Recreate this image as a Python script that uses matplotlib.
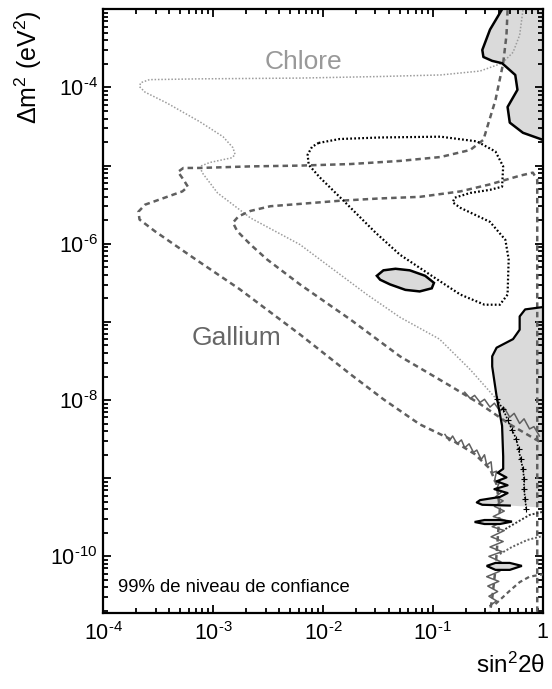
import numpy as np
import matplotlib
matplotlib.use("Agg")
import matplotlib.pyplot as plt
from matplotlib.ticker import FixedLocator, FixedFormatter, LogLocator, NullFormatter

plt.rcParams['font.family'] = ['Liberation Sans', 'DejaVu Sans']
plt.rcParams['mathtext.fontset'] = 'custom'
plt.rcParams['mathtext.rm'] = 'Liberation Sans'
plt.rcParams['mathtext.it'] = 'Liberation Sans:italic'
plt.rcParams['axes.unicode_minus'] = False

# contours given as log10(sin^2 2theta), log10(dm^2 / eV^2)

# chlorine experiment, 99% CL
chlore_ls = [-0.18, -0.21, -0.27, -0.37, -0.57, -0.93, -1.48, -2.21, -3.12, -3.58, -3.66,
             -3.67, -3.62, -3.42, -3.12, -2.91, -2.82, -2.80, -2.83, -3.03, -3.12, -3.10,
             -2.96, -2.66, -2.21, -1.60, -1.30, -0.94, -0.66, -0.42]
chlore_lm = [-3.01, -3.33, -3.55, -3.69, -3.79, -3.84, -3.86, -3.88, -3.89, -3.90, -3.94,
             -3.99, -4.06, -4.20, -4.44, -4.63, -4.77, -4.86, -4.90, -4.96, -5.01, -5.09,
             -5.35, -5.67, -6.01, -6.65, -6.94, -7.22, -7.61, -7.99]

# gallium experiments, outer and inner contours
gallium_out_ls = [-0.32, -0.33, -0.36, -0.43, -0.54, -0.66, -0.93, -1.30, -1.75, -2.21, -2.66,
                  -3.12, -3.27, -3.32, -3.27, -3.23, -3.28, -3.44, -3.62, -3.68, -3.67, -3.53,
                  -3.18, -2.76, -2.21, -1.75, -1.45, -1.12, -0.84, -0.62, -0.48, -0.42, -0.39,
                  -0.41, -0.43, -0.46, -0.48]
gallium_out_lm = [-3.01, -3.33, -3.69, -4.16, -4.67, -4.80, -4.89, -4.94, -4.98, -5.00, -5.01,
                  -5.03, -5.03, -5.08, -5.18, -5.27, -5.33, -5.41, -5.50, -5.59, -5.69, -5.84,
                  -6.18, -6.58, -7.16, -7.67, -7.99, -8.31, -8.50, -8.69, -8.88, -9.08, -9.39,
                  -9.78, -10.16, -10.54, -10.71]
gallium_in_ls = [-0.05, -0.05, -0.09, -0.21, -0.48, -0.75, -1.12, -1.48, -1.85, -2.21, -2.48,
                 -2.66, -2.77, -2.82, -2.78, -2.66, -2.51, -2.21, -1.75, -1.30, -0.84, -0.57,
                 -0.30, -0.02]
gallium_in_lm = [-10.71, -5.18, -5.09, -5.13, -5.24, -5.33, -5.40, -5.42, -5.45, -5.49, -5.52,
                 -5.58, -5.65, -5.73, -5.84, -6.01, -6.20, -6.52, -6.97, -7.44, -7.82, -8.05,
                 -8.31, -8.54]

# scatter of the gallium contours at low dm^2
gallium_noise1_ls = [-0.89, -0.85, -0.82, -0.78, -0.74, -0.71, -0.67, -0.63, -0.60, -0.56, -0.53,
                     -0.51, -0.47, -0.46, -0.42, -0.44, -0.39, -0.42, -0.37, -0.43, -0.36, -0.44,
                     -0.35, -0.45, -0.34, -0.46, -0.35, -0.47, -0.36, -0.48, -0.37, -0.49, -0.38,
                     -0.50, -0.39, -0.51, -0.40, -0.50, -0.41, -0.49, -0.42, -0.48]
gallium_noise1_lm = [-8.44, -8.52, -8.46, -8.56, -8.51, -8.61, -8.56, -8.67, -8.64, -8.76, -8.70,
                     -8.83, -8.79, -8.93, -8.91, -9.04, -9.04, -9.14, -9.17, -9.24, -9.29, -9.36,
                     -9.42, -9.49, -9.54, -9.62, -9.67, -9.75, -9.81, -9.88, -9.94, -10.00, -10.07,
                     -10.13, -10.19, -10.26, -10.32, -10.38, -10.45, -10.51, -10.57, -10.63]
gallium_noise2_ls = [-0.71, -0.66, -0.62, -0.57, -0.53, -0.48, -0.44, -0.39, -0.35, -0.30, -0.26,
                     -0.21, -0.17, -0.12, -0.08, -0.03]
gallium_noise2_lm = [-7.90, -7.98, -7.94, -8.03, -7.99, -8.09, -8.04, -8.14, -8.10, -8.22, -8.17,
                     -8.30, -8.24, -8.37, -8.34, -8.46]

# combined black dotted contour
dotted_ls = [-2.04, -1.85, -1.48, -0.93, -0.60, -0.43, -0.36, -0.37, -0.48, -0.66, -0.80, -0.82,
             -0.75, -0.48, -0.34, -0.31, -0.32, -0.39, -0.53, -0.75, -1.00, -1.30, -1.52, -1.82,
             -2.03, -2.13, -2.14, -2.10, -2.04]
dotted_lm = [-4.71, -4.66, -4.64, -4.63, -4.69, -4.82, -5.01, -5.27, -5.31, -5.35, -5.41, -5.47,
             -5.54, -5.72, -5.95, -6.20, -6.65, -6.78, -6.78, -6.65, -6.42, -6.14, -5.86, -5.44,
             -5.15, -4.99, -4.86, -4.76, -4.71]
dotted_low_ls = [-0.42, -0.36, -0.32, -0.28, -0.24, -0.22, -0.20, -0.18, -0.17, -0.17, -0.16, -0.15]
dotted_low_lm = [-7.99, -8.12, -8.25, -8.38, -8.50, -8.63, -8.76, -8.88, -9.01, -9.14, -9.27, -9.39]
curl_a_ls = [-0.34, -0.23, -0.12, 0.0]
curl_a_lm = [-9.65, -9.56, -9.47, -9.43]
curl_b_ls = [-0.39, -0.28, -0.14, 0.0]
curl_b_lm = [-9.97, -9.88, -9.79, -9.74]
curl_c_ls = [-0.43, -0.30, -0.21, -0.12, 0.0]
curl_c_lm = [-10.61, -10.44, -10.33, -10.26, -10.23]

# allowed regions (shaded)
region_top_ls = [-0.37, -0.48, -0.55, -0.54, -0.46, -0.37, -0.25, -0.23, -0.32, -0.30, -0.18, 0.0, 0.0]
region_top_lm = [-3.00, -3.26, -3.52, -3.61, -3.66, -3.69, -3.84, -4.03, -4.25, -4.45, -4.58, -4.67, -3.00]
island_ls = [-1.51, -1.45, -1.34, -1.21, -1.07, -0.99, -1.01, -1.12, -1.25, -1.39, -1.48, -1.51]
island_lm = [-6.41, -6.34, -6.32, -6.34, -6.41, -6.50, -6.57, -6.61, -6.59, -6.52, -6.46, -6.41]
region_low_ls = [0.0, -0.16, -0.21, -0.21, -0.27, -0.42, -0.46, -0.46, -0.42, -0.37, -0.36, -0.36,
                 -0.41, -0.33, -0.42, -0.32, -0.44, -0.32, -0.39, -0.57, -0.60, -0.55, -0.30,
                 -0.07, 0.0]
region_low_lm = [-6.81, -6.84, -6.93, -7.10, -7.22, -7.33, -7.44, -7.57, -7.95, -8.33, -8.72, -8.88,
                 -8.93, -8.99, -9.04, -9.09, -9.14, -9.19, -9.24, -9.28, -9.31, -9.34, -9.35,
                 -9.37, -9.37]
loop_a_ls = [-0.62, -0.53, -0.39, -0.28, -0.39, -0.53, -0.62]
loop_a_lm = [-9.56, -9.535, -9.535, -9.555, -9.586, -9.586, -9.56]
loop_b_ls = [-0.51, -0.43, -0.30, -0.19, -0.30, -0.43, -0.51]
loop_b_lm = [-10.122, -10.084, -10.084, -10.122, -10.173, -10.173, -10.122]

x_ticks = [1e-4, 1e-3, 1e-2, 1e-1, 1]
x_tick_labels = [r'$10^{\text{-}4}$', r'$10^{\text{-}3}$', r'$10^{\text{-}2}$',
                 r'$10^{\text{-}1}$', '1']
y_ticks = [1e-10, 1e-9, 1e-8, 1e-7, 1e-6, 1e-5, 1e-4, 1e-3]
y_tick_labels = [r'$10^{\text{-}10}$', '', r'$10^{\text{-}8}$', '', r'$10^{\text{-}6}$', '',
                 r'$10^{\text{-}4}$', '']


def lin(a):
    return 10.0 ** np.asarray(a)


CHL = '#9c9c9c'
GAL = '#5f5f5f'
FILL = '#dadada'

fig = plt.figure(figsize=(5.52, 6.89), dpi=100)
ax = fig.add_axes([0.1871, 0.1107, 0.7961, 0.8758])
ax.set_xscale('log')
ax.set_yscale('log')

# shaded regions first
ax.fill(lin(region_top_ls), lin(region_top_lm), color=FILL, lw=0, zorder=1)
ax.plot(lin(region_top_ls[:-1]), lin(region_top_lm[:-1]), color='k', lw=1.8, zorder=4)
ax.fill(lin(region_low_ls), lin(region_low_lm), color=FILL, lw=0, zorder=1)
ax.plot(lin(region_low_ls[:-2]), lin(region_low_lm[:-2]), color='k', lw=1.6, zorder=4)
ax.fill(lin(island_ls), lin(island_lm), facecolor=FILL, edgecolor='k', lw=1.8, zorder=4)
ax.fill(lin(loop_a_ls), lin(loop_a_lm), facecolor=FILL, edgecolor='k', lw=1.6, zorder=4)
ax.fill(lin(loop_b_ls), lin(loop_b_lm), facecolor=FILL, edgecolor='k', lw=1.6, zorder=4)

# experiment contours
ax.plot(lin(chlore_ls), lin(chlore_lm), color=CHL, lw=1.1, ls=(0, (1, 1.2)), zorder=2)
ax.plot(lin(gallium_out_ls), lin(gallium_out_lm), color=GAL, lw=1.8, ls=(0, (2.2, 1.6)), zorder=3)
ax.plot(lin(gallium_in_ls), lin(gallium_in_lm), color=GAL, lw=1.8, ls=(0, (2.2, 1.6)), zorder=3)
ax.plot(lin(gallium_noise1_ls), lin(gallium_noise1_lm), color=GAL, lw=1.1, zorder=3)
ax.plot(lin(gallium_noise2_ls), lin(gallium_noise2_lm), color=GAL, lw=1.1, zorder=3)
ax.plot(lin(dotted_ls), lin(dotted_lm), color='k', lw=1.6, ls=(0, (0.8, 1.0)), zorder=3)
ax.plot(lin(dotted_low_ls), lin(dotted_low_lm), color='k', lw=1.2, ls=(0, (1, 1)),
        marker='+', ms=4, mew=0.8, zorder=3)
ax.plot(lin(curl_a_ls), lin(curl_a_lm), color='#333333', lw=1.4, ls=(0, (1, 1)), zorder=3)
ax.plot(lin(curl_b_ls), lin(curl_b_lm), color=GAL, lw=1.4, ls=(0, (1, 1)), zorder=3)
ax.plot(lin(curl_c_ls), lin(curl_c_lm), color=GAL, lw=1.6, ls=(0, (2, 1.5)), zorder=3)

ax.set_xlim(1e-4, 1)
ax.set_ylim(1.9e-11, 1e-3)

ax.xaxis.set_major_locator(FixedLocator(x_ticks))
ax.xaxis.set_major_formatter(FixedFormatter(x_tick_labels))
ax.yaxis.set_major_locator(FixedLocator(y_ticks))
ax.yaxis.set_major_formatter(FixedFormatter(y_tick_labels))
ax.xaxis.set_minor_locator(LogLocator(base=10, subs=np.arange(2, 10), numticks=20))
ax.yaxis.set_minor_locator(LogLocator(base=10, subs=np.arange(2, 10), numticks=20))
ax.xaxis.set_minor_formatter(NullFormatter())
ax.yaxis.set_minor_formatter(NullFormatter())
ax.tick_params(which='both', direction='in', top=True, right=True, width=1.3, labelsize=15.5)
ax.tick_params(which='major', length=6)
ax.tick_params(which='minor', length=3.5)
ax.tick_params(axis='x', pad=7)
ax.tick_params(axis='y', pad=4)
for sp in ax.spines.values():
    sp.set_linewidth(1.6)

ax.text(0.4545, 0.9127, 'Chlore', transform=ax.transAxes, ha='center', va='center',
        fontsize=19, color='#999999')
ax.text(0.304, 0.455, 'Gallium', transform=ax.transAxes, ha='center', va='center',
        fontsize=19, color='#666666')
ax.text(0.0335, 0.041, '99% de niveau de confiance', transform=ax.transAxes, ha='left',
        va='center', fontsize=13.3, color='k')

fig.text(0.0507, 0.9855, 'Δm$^2$ (eV$^2$)', rotation=90, ha='center', va='top', fontsize=18)
fig.text(0.987, 0.035, 'sin$^2$2θ', ha='right', va='center', fontsize=17.5)

fig.savefig('out.png', dpi=100)
